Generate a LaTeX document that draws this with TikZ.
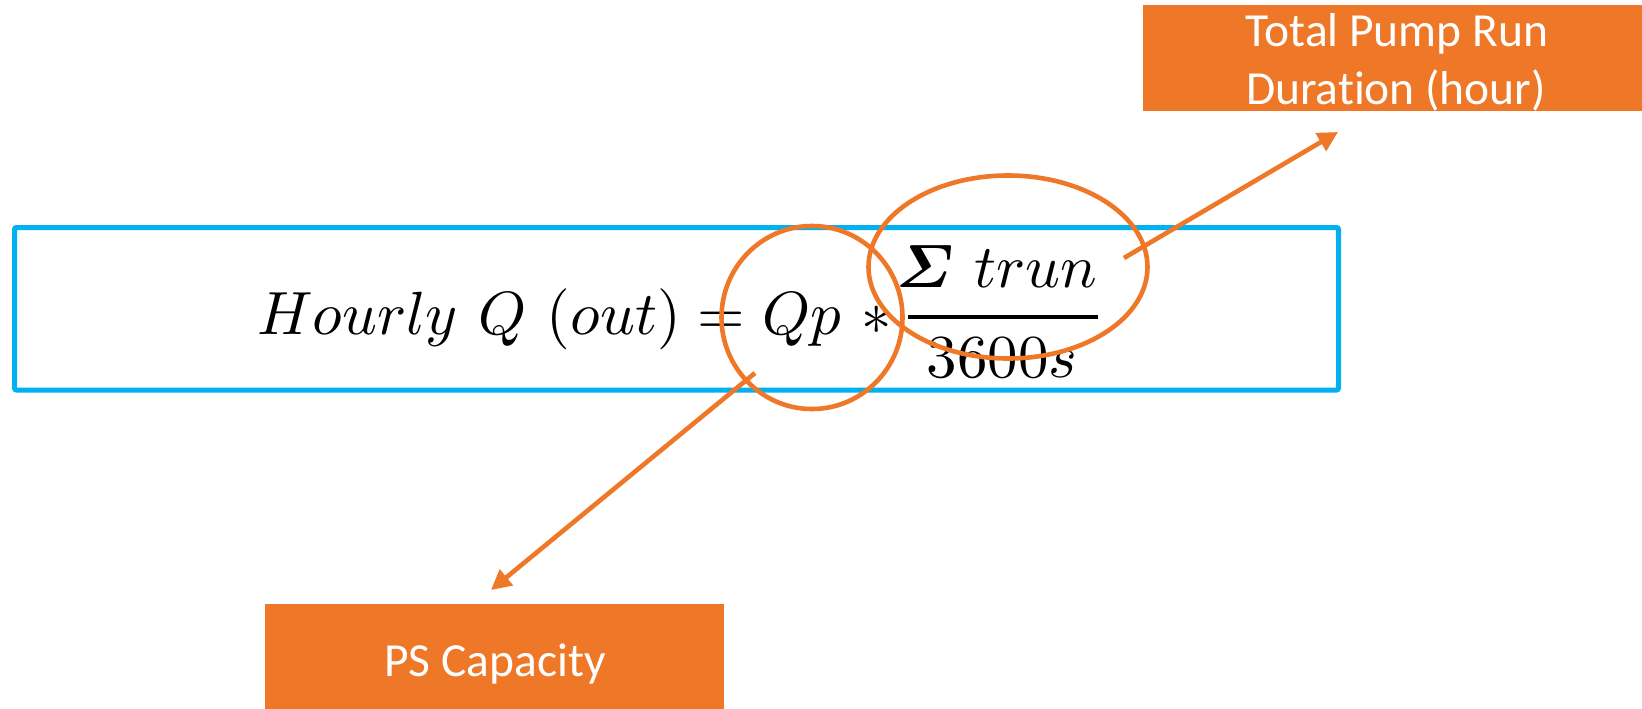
\documentclass[tikz,border=0pt]{standalone}
\usepackage{fontspec}
\usepackage{amsmath}
\newfontfamily\lblfont[Ligatures=NoCommon]{Carlito}
\usetikzlibrary{arrows.meta,shapes.geometric}
\definecolor{pporange}{HTML}{EF7828}
\definecolor{ppblue}{HTML}{00B0F0}
\begin{document}
\begin{tikzpicture}[x=1pt,y=-1pt,
  obox/.style={fill=pporange, draw=none, inner sep=0, outer sep=0},
  lbl/.style={text=white, font=\lblfont\fontsize{47.5}{57}\selectfont, inner sep=0, anchor=base},
  ring/.style={draw=pporange, line width=4.6pt, ellipse, inner sep=0},
  arr/.style={draw=pporange, line width=4.6pt, -{Triangle[length=20pt,width=20pt]}},
  frm/.style={inner sep=0, scale=6.1}
]
\useasboundingbox (0,0) rectangle (1642,709);
\fill[white] (0,0) rectangle (1642,709);
% formula box
\node[draw=ppblue, line width=5pt, rounded corners=2pt, minimum width=1324pt, minimum height=162.5pt, inner sep=0] (box) at (676.5,308.75) {};
% formula
\node[frm, anchor=base west] (lhs) at (256,334) {$Hourly\ Q\ (out) = Qp\ *$};
\node[frm, anchor=base] (num) at (997,287) {$\boldsymbol{\varSigma}\ trun$};
\node[frm, anchor=base] (den) at (1002,377) {$3600s$};
\coordinate (barL) at (908,317);
\coordinate (barR) at (1098,317);
\draw[line width=4pt] (barL) -- (barR);
% orange label boxes
\node[obox, minimum width=500pt, minimum height=106pt, anchor=north west] (trdbox) at (1143,5) {};
\node[lbl] (trd1) at (1397,47) {Total Pump Run};
\node[lbl] (trd2) at (1396,104) {Duration (hour)};
\node[obox, minimum width=459pt, minimum height=115pt, anchor=north west] (psbox) at (265,604) {};
\node[lbl] (pstxt) at (495,676) {PS Capacity};
% rings
\node[ring, minimum width=181pt, minimum height=183pt] (qpring) at (812,317.5) {};
\node[ring, minimum width=279pt, minimum height=183pt] (sumring) at (1008,267) {};
% arrows
\coordinate (a1from) at (755,373);
\coordinate (a1to) at (491,590);
\draw[arr] (a1from) -- (a1to);
\coordinate (a2from) at (1124,258);
\coordinate (a2to) at (1338,132);
\draw[arr] (a2from) -- (a2to);
\end{tikzpicture}
\end{document}
